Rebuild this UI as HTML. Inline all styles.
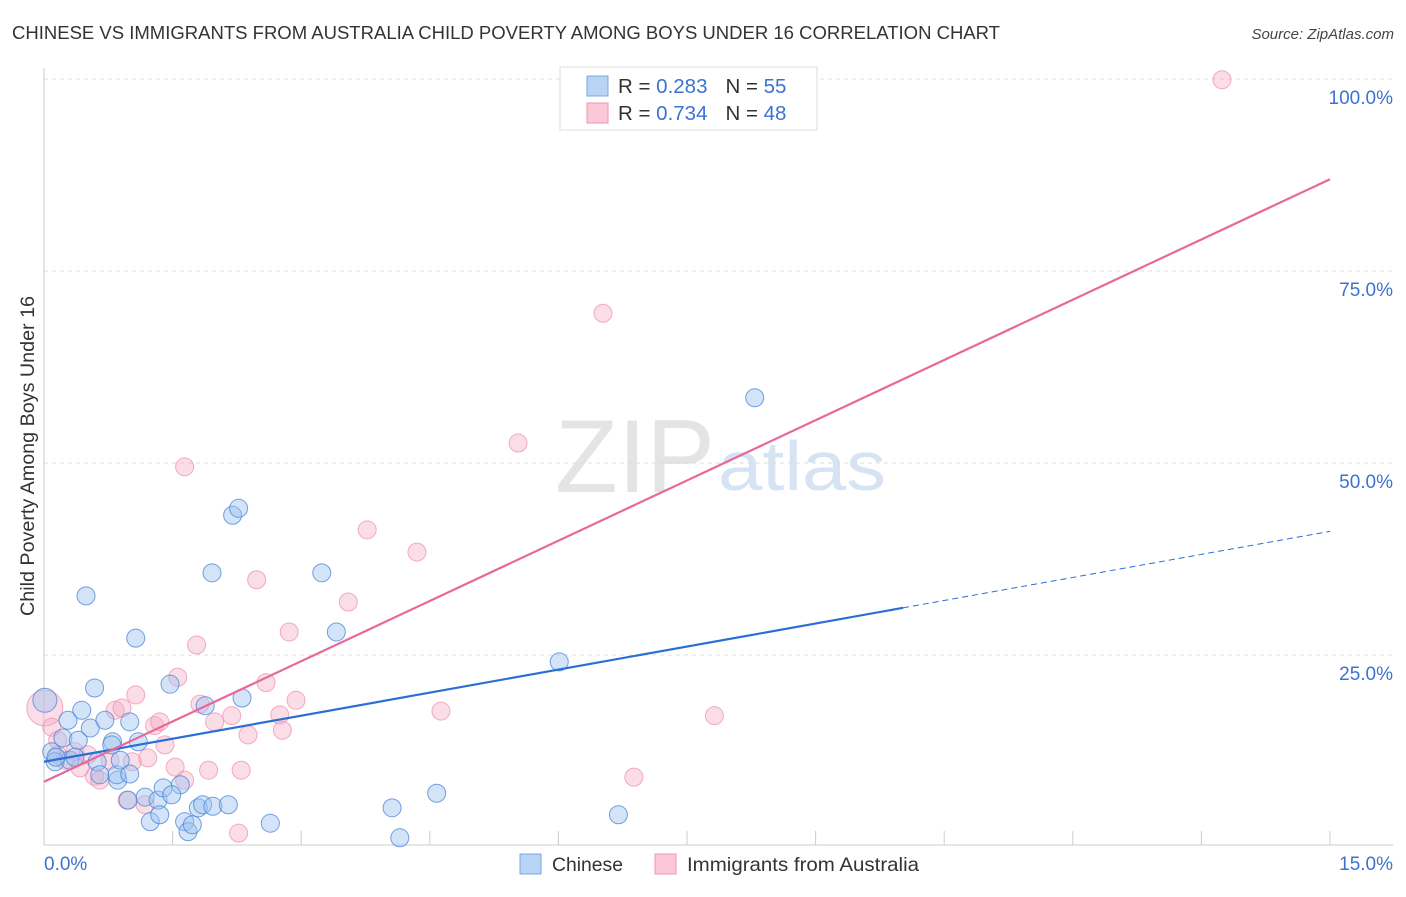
<!DOCTYPE html>
<html><head><meta charset="utf-8"><style>
body{margin:0;background:#fff;font-family:"Liberation Sans",sans-serif;}
svg text{font-family:"Liberation Sans",sans-serif;}
</style></head><body>
<svg id="chart" width="1406" height="892" viewBox="0 0 1406 892">
<text x="12" y="39" font-size="18" fill="#333" textLength="988" lengthAdjust="spacingAndGlyphs">CHINESE VS IMMIGRANTS FROM AUSTRALIA CHILD POVERTY AMONG BOYS UNDER 16 CORRELATION CHART</text>
<text x="1394" y="39" font-size="15" fill="#444" font-style="italic" text-anchor="end">Source: ZipAtlas.com</text>
<text x="715" y="492" font-size="104" fill="#e4e4e4" text-anchor="end" textLength="160" lengthAdjust="spacingAndGlyphs" font-family="Liberation Serif">ZIP</text>
<text x="718" y="490" font-size="70" fill="#d5e3f3" textLength="168" lengthAdjust="spacingAndGlyphs">atlas</text>
<text transform="translate(34,456) rotate(-90)" font-size="19" fill="#333" text-anchor="middle" textLength="320" lengthAdjust="spacingAndGlyphs">Child Poverty Among Boys Under 16</text>
<g id="grid"></g><g id="pts"></g><g id="lines"></g>
<g>
<rect x="560" y="67" width="257" height="63" fill="#fff" stroke="#ddd"/>
<rect x="587" y="76" width="21" height="20" fill="#b8d4f5" stroke="#7aa8e0"/>
<rect x="587" y="103" width="21" height="20" fill="#fbc8d7" stroke="#f095b2"/>
<text x="618" y="93" font-size="20.5" fill="#333">R = <tspan fill="#3b73d1">0.283</tspan><tspan dx="18">N = </tspan><tspan fill="#3b73d1">55</tspan></text>
<text x="618" y="120" font-size="20.5" fill="#333">R = <tspan fill="#3b73d1">0.734</tspan><tspan dx="18">N = </tspan><tspan fill="#3b73d1">48</tspan></text>
</g>
<g>
<rect x="520" y="854" width="21" height="20" fill="#b8d4f5" stroke="#7aa8e0"/>
<text x="552" y="871" font-size="19.5" fill="#333" textLength="71" lengthAdjust="spacingAndGlyphs">Chinese</text>
<rect x="655" y="854" width="21" height="20" fill="#fbc8d7" stroke="#f095b2"/>
<text x="687" y="871" font-size="19.5" fill="#333" textLength="232" lengthAdjust="spacingAndGlyphs">Immigrants from Australia</text>
</g>
<text x="44" y="870" font-size="19" fill="#3b73d1">0.0%</text>
<text x="1393" y="870" font-size="19" fill="#3b73d1" text-anchor="end">15.0%</text>
</svg>
<script>
const yTicks=[100,75,50,25];
const yTickLabels=["100.0%","75.0%","50.0%","25.0%"];
const xTicks=[0,1.5,3,4.5,6,7.5,9,10.5,12,13.5,15];
const chineseX=[0.01,0.09,0.13,0.22,0.28,0.30,0.44,0.49,0.40,0.54,0.59,0.62,0.71,0.80,0.86,0.85,0.79,1.00,1.07,1.10,0.98,1.24,1.18,1.33,1.35,1.39,1.47,1.59,1.64,1.68,1.73,1.80,1.85,1.88,1.97,2.15,1.96,2.20,2.27,2.31,2.64,3.24,3.41,4.06,4.15,4.58,6.01,6.70,8.29,1.00,0.65,0.14,0.36,1.49,0.89];
const chineseY=[19.1,12.4,11.1,14.2,16.5,11.3,17.8,32.7,13.9,15.5,20.7,11.1,16.5,13.7,8.7,9.4,13.3,16.3,27.2,13.7,6.1,3.3,6.5,6.1,4.2,7.7,21.2,8.1,3.3,2.0,2.9,5.1,5.5,18.4,5.3,5.5,35.7,43.2,44.1,19.4,3.1,35.7,28.0,5.1,1.2,7.0,24.1,4.2,58.5,9.5,9.4,11.7,11.7,6.8,11.3];
const ausX=[0.01,0.09,0.16,0.24,0.36,0.42,0.51,0.59,0.65,0.77,0.83,0.91,0.97,1.03,1.07,1.18,1.21,1.29,1.35,1.41,1.53,1.56,1.64,1.64,1.78,1.82,1.92,1.99,2.19,2.27,2.30,2.38,2.48,2.59,2.75,2.78,2.86,2.94,3.55,3.77,4.35,4.63,5.53,6.52,6.88,7.82,13.74,0.16];
const ausY=[18.1,15.6,13.9,11.3,12.4,10.3,12.0,9.2,8.7,11.3,17.8,18.1,6.1,11.1,19.8,5.5,11.6,15.8,16.3,13.3,10.4,22.1,8.7,49.5,26.3,18.6,10.0,16.3,17.1,1.8,10.0,14.6,34.8,21.4,17.2,15.2,28.0,19.1,31.9,41.3,38.4,17.7,52.6,69.5,9.1,17.1,99.9,12.0];
const chineseTrend=[11.1,2.0];   // intercept, slope
const ausTrend=[8.5,5.23];
const X0=44,X1=1330,Y0=847,Y1=79;
const sx=v=>X0+(v/15)*(X1-X0);
const sy=v=>Y0-(v/100)*(Y0-Y1);
const NS="http://www.w3.org/2000/svg";
function mk(t,a,p){const e=document.createElementNS(NS,t);for(const k in a)e.setAttribute(k,a[k]);p.appendChild(e);return e;}
const grid=document.getElementById('grid');
yTicks.forEach((t,i)=>{
 const l=mk('line',{x1:X0,x2:1393,y1:sy(t),y2:sy(t),stroke:'#ddd','stroke-dasharray':'4,4'},grid);
 
 
 const tx=mk('text',{x:1393,y:sy(t)+25,'font-size':19,fill:'#3b73d1','text-anchor':'end'},grid);
 tx.textContent=yTickLabels[i];
 
 
});
const ax=mk('line',{x1:X0,x2:X0,y1:68,y2:845,stroke:'#ccc'},grid);


const bx=mk('line',{x1:X0,x2:1393,y1:845,y2:845,stroke:'#ccc'},grid);


xTicks.forEach(t=>{
 const l=mk('line',{x1:sx(t),x2:sx(t),y1:831,y2:845,stroke:'#ccc'},grid);
 
 
});
const pts=document.getElementById('pts');
ausX.forEach((x,i)=>{
 const c=mk('circle',{cx:sx(x),cy:sy(ausY[i]),r:i===0?18:9,fill:'rgba(246,170,195,0.4)',stroke:'rgba(236,140,170,0.7)','stroke-width':1},pts);
 
 
});
chineseX.forEach((x,i)=>{
 const c=mk('circle',{cx:sx(x),cy:sy(chineseY[i]),r:i===0?12:9,fill:'rgba(160,195,240,0.45)',stroke:'rgba(70,130,215,0.75)','stroke-width':1},pts);
 
 
});
const lines=document.getElementById('lines');
const f=(tr,x)=>tr[0]+tr[1]*x;
const bl=mk('line',{x1:sx(0),y1:sy(f(chineseTrend,0)),x2:sx(10.02),y2:sy(f(chineseTrend,10.02)),stroke:'#2a6fd6','stroke-width':2.2},lines);


const bd=mk('line',{x1:sx(10.02),y1:sy(f(chineseTrend,10.02)),x2:sx(15),y2:sy(f(chineseTrend,15)),stroke:'#2a6fd6','stroke-width':1,'stroke-dasharray':'6,4'},lines);


const pl=mk('line',{x1:sx(0),y1:sy(f(ausTrend,0)),x2:sx(15),y2:sy(f(ausTrend,15)),stroke:'#e8689a','stroke-width':2.2},lines);


</script>
</body></html>
